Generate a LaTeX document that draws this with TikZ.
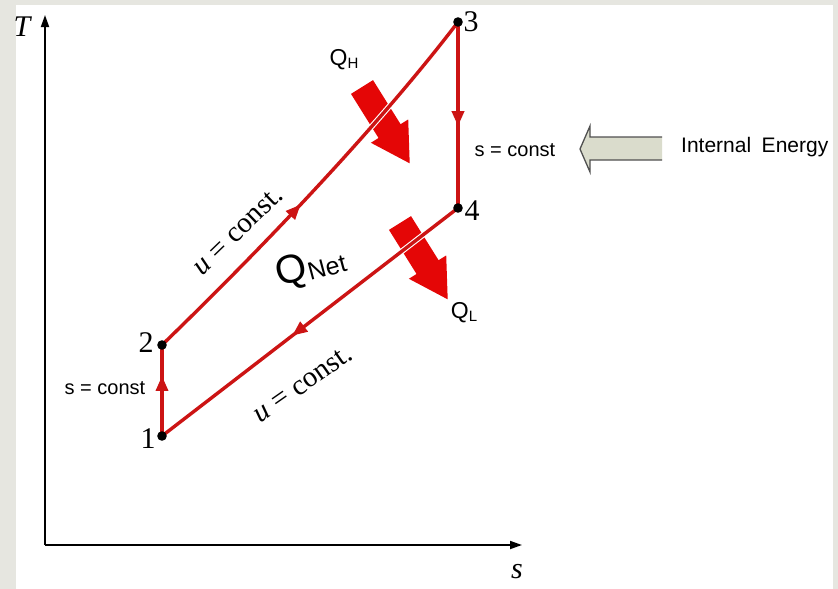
\documentclass[tikz,border=0pt]{standalone}
\usepackage{fontspec}
\setmainfont{Liberation Serif}
\setsansfont{Liberation Sans}
\usetikzlibrary{arrows.meta,decorations.markings}
\definecolor{cyc}{RGB}{204,20,20}
\definecolor{heat}{RGB}{228,6,6}
\definecolor{framegrey}{RGB}{230,230,224}
\definecolor{iefill}{RGB}{218,220,204}
\definecolor{ieline}{RGB}{80,80,80}
\begin{document}
\begin{tikzpicture}[x=1pt,y=1pt,
  redline/.style={color=cyc, line width=3.4pt},
  halo/.style={draw=white, line width=5.6pt},
  midarrow/.style={postaction={decorate},decoration={markings,
     mark=at position #1 with {\arrow{Triangle[length=15pt,width=12pt]}}}},
  axisline/.style={line width=1.8pt, -{Triangle[length=12pt,width=8pt]}},
  dot/.style={fill=black},
  numlbl/.style={font=\fontsize{30}{30}\selectfont, inner sep=0pt},
  sanslbl/.style={font=\sffamily\fontsize{20}{24}\selectfont, inner sep=0pt},
  qlbl/.style={font=\sffamily\fontsize{23}{24}\selectfont, inner sep=0pt},
  ulbl/.style={font=\fontsize{29}{30}\selectfont, inner sep=0pt},
  heatarrow/.style={fill=heat},
]
% frame
\fill[framegrey] (0,0) rectangle (838,-589);
\fill[white] (16,-5) rectangle (833,-589);
\useasboundingbox (0,0) rectangle (838,-589);

% axes
\coordinate (O) at (45,-545);
\coordinate (Ttip) at (45,-15);
\coordinate (Stip) at (522,-545);
\draw[axisline] (O) -- (Ttip);
\draw[axisline] (O) -- (Stip);
\node[numlbl] (Tl) at (22,-27) {\itshape T};
\node[numlbl] (Sl) at (517,-572) {\itshape s};

% cycle points
\coordinate (p1) at (162,-436);
\coordinate (p2) at (162,-345);
\coordinate (p3) at (458,-22);
\coordinate (p4) at (458,-208);

% heat arrows
\begin{scope}[shift={(362,-87)}, rotate=-58]
  \fill[heatarrow] (0,13) -- (52,13) -- (52,22) -- (90,0) -- (52,-22) -- (52,-13) -- (0,-13) -- cycle;
\end{scope}
\begin{scope}[shift={(400,-223)}, rotate=-58]
  \fill[heatarrow] (0,13) -- (52,13) -- (52,22) -- (90,0) -- (52,-22) -- (52,-13) -- (0,-13) -- cycle;
\end{scope}

% cycle lines with white halo where they cross arrows
\draw[halo] (p2) .. controls (330,-182) and (420,-72) .. (p3);
\draw[halo] (p4) -- (p1);
\draw[redline, midarrow=0.45] (p2) .. controls (330,-182) and (420,-72) .. (p3);
\draw[redline, midarrow=0.56] (p3) -- (p4);
\draw[redline, midarrow=0.56] (p4) -- (p1);
\draw[redline, midarrow=0.66] (p1) -- (p2);

\foreach \p in {p1,p2,p3,p4} \fill[dot] (\p) circle (4.8);

\node[numlbl] (n1) at (148,-439) {1};
\node[numlbl] (n2) at (146,-343) {2};
\node[numlbl] (n3) at (471,-22) {3};
\node[numlbl] (n4) at (472,-211) {4};

% labels
\node[qlbl] (qh) at (344,-60) {Q{\fontsize{15}{15}\selectfont\raisebox{-3pt}{H}}};
\node[qlbl] (ql) at (464,-313) {Q{\fontsize{15}{15}\selectfont\raisebox{-3pt}{L}}};
\node[font=\sffamily, inner sep=0pt, rotate=15] (qnet) at (311,-268)
  {{\fontsize{40}{40}\selectfont Q}{\fontsize{25}{25}\selectfont\raisebox{-2pt}{Net}}};
\node[ulbl, rotate=44] (u1) at (238,-231) {\textit{u} = const.};
\node[ulbl, rotate=35] (u2) at (303,-384) {\textit{u} = const.};
\node[sanslbl] (sc1) at (515,-150) {s = const};
\node[sanslbl] (sc2) at (105,-388) {s = const};

% internal energy hollow arrow
\fill[iefill] (662,-137) -- (590,-137) -- (590,-126) -- (580,-149) -- (590,-172) -- (590,-160) -- (662,-160) -- cycle;
\draw[ieline, line width=1.3pt, line join=miter] (662,-137) -- (590,-137) -- (590,-126) -- (580,-149) -- (590,-172) -- (590,-160) -- (662,-160);
\node[sanslbl, anchor=west, font=\sffamily\fontsize{21}{24}\selectfont] (ie) at (681,-147) {Internal\hspace{0.5em}Energy};
\end{tikzpicture}
\end{document}
